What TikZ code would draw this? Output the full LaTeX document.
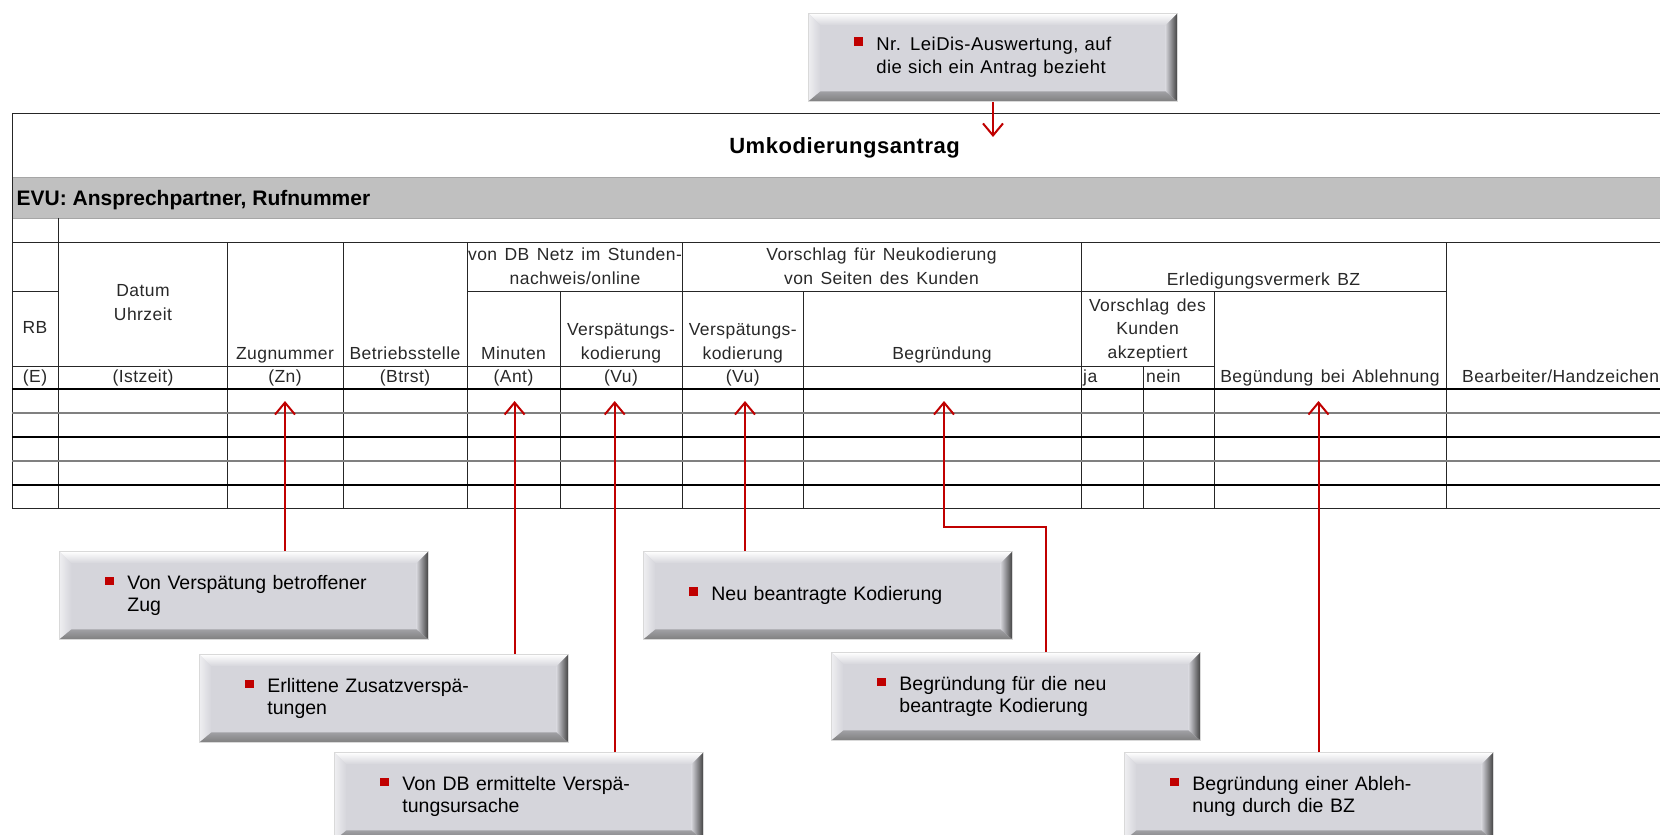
\documentclass[tikz,border=0pt]{standalone}
\usepackage{fontspec}
\setmainfont{Liberation Sans}
\newfontfamily\tabfont{Liberation Sans}[LetterSpace=2.5]
\newfontfamily\notefont{Liberation Sans}[WordSpace=2.2]
\newfontfamily\topfont{Liberation Sans}[LetterSpace=2.5, WordSpace=1.4]
\usetikzlibrary{arrows.meta}

\definecolor{dbred}{RGB}{192,0,0}
\definecolor{notefill}{RGB}{213,213,219}
\definecolor{bandgray}{RGB}{192,192,192}
\definecolor{inkgray}{RGB}{40,40,40}

\newcommand{\bul}{\textcolor{dbred}{\rule[4.5pt]{8.5pt}{8.5pt}}\hspace{13.5pt}}
\newcommand{\notetext}[1]{\bul\parbox[t]{250pt}{\raggedright #1}}

\tikzset{
  grid/.style={draw=black!85, line width=1pt},
  thickrow/.style={draw=black, line width=2pt},
  thinrow/.style={draw=black!50, line width=1.5pt},
  bandline/.style={draw=black!35, line width=1pt},
  cell/.style={font=\tabfont\fontsize{17.5}{23.5}\selectfont, text=inkgray, inner sep=0pt, anchor=base, align=center},
  pointer/.style={draw=dbred, line width=2pt, -{Straight Barb[length=12pt, width=20pt]}},
  note/.style={rectangle, fill=notefill, draw=black!15, line width=0.8pt,
    minimum height=88pt, text width=277pt, inner xsep=46pt, inner ysep=0pt,
    align=left, anchor=north west, text=black,
    font=\notefont\fontsize{19.5}{21.5}\selectfont,
    path picture={
      \coordinate (nw) at (path picture bounding box.north west);
      \coordinate (ne) at (path picture bounding box.north east);
      \coordinate (sw) at (path picture bounding box.south west);
      \coordinate (se) at (path picture bounding box.south east);
      \shade[top color=white, bottom color=notefill] (nw) -- (ne) -- ([shift={(-12pt,-12pt)}]ne) -- ([shift={(12pt,-12pt)}]nw) -- cycle;
      \shade[left color=white!60!notefill, right color=notefill] (nw) -- ([shift={(12pt,-12pt)}]nw) -- ([shift={(12pt,10pt)}]sw) -- (sw) -- cycle;
      \shade[left color=notefill, right color=black!75] (ne) -- (se) -- ([shift={(-12pt,10pt)}]se) -- ([shift={(-12pt,-12pt)}]ne) -- cycle;
      \shade[top color=notefill!75!black, bottom color=black!50] (sw) -- ([shift={(12pt,10pt)}]sw) -- ([shift={(-12pt,10pt)}]se) -- (se) -- cycle;
    }}
}

\begin{document}
\begin{tikzpicture}[x=1pt, y=-1pt]
  \useasboundingbox (0,0) rectangle (1660,835);
  \clip (0,0) rectangle (1660,835);

  \fill[bandgray] (12,177) rectangle (1680,218);
  \draw[bandline] (12,177) -- (1680,177) (12,218) -- (1680,218);
  \draw[grid] (12,113) -- (1680,113) (12,113) -- (12,508) (12,242) -- (1680,242);
  \draw[grid] (12,291) -- (58,291) (467,291) -- (1446,291) (12,366) -- (1214,366) (12,508) -- (1680,508);
  \foreach \x/\top in {58/218, 227.5/242, 343/242, 467/242, 560/291, 682/242, 803.5/291, 1081/242, 1143.6/366, 1214/291, 1446/242}
    \draw[grid] (\x,\top) -- (\x,508);
  \foreach \y in {389,437,485}
    \draw[thickrow] (12,\y) -- (1680,\y);
  \foreach \y in {413,461}
    \draw[thinrow] (12,\y) -- (1680,\y);

  \node[font=\tabfont\bfseries\fontsize{22}{26}\selectfont, anchor=base, inner sep=0pt] (titel) at (844.6,153) {Umkodierungsantrag};
  \node[font=\bfseries\fontsize{21}{24}\selectfont, anchor=base west, inner sep=0pt] (evu) at (16.5,205.5) {EVU: Ansprechpartner, Rufnummer};

  \node[cell] (rb) at (35,333) {RB};
  \node[cell] (datum) at (143,320) {Datum\\Uhrzeit};
  \node[cell] (zugnr) at (285,359) {Zugnummer};
  \node[cell] (btrst) at (405,359) {Betriebsstelle};
  \node[cell] (dbnetz) at (575,284) {von DB Netz im Stunden-\\nachweis/online};
  \node[cell] (minuten) at (513.5,359) {Minuten};
  \node[cell] (vkod) at (621,359) {Verspätungs-\\kodierung};
  \node[cell] (vorschlag) at (881.5,284) {Vorschlag für Neukodierung\\von Seiten des Kunden};
  \node[cell] (nkod) at (742.8,359) {Verspätungs-\\kodierung};
  \node[cell] (begr) at (942,359) {Begründung};
  \node[cell] (erled) at (1263.5,285) {Erledigungsvermerk BZ};
  \node[cell] (akzept) at (1147.5,358) {Vorschlag des\\Kunden\\akzeptiert};
  \node[cell] (ablehn) at (1330,382.5) {Begündung bei Ablehnung};
  \node[cell, anchor=base west] (bearb) at (1462,382.5) {Bearbeiter/Handzeichen};

  \node[cell] (e) at (35,382.5) {(E)};
  \node[cell] (istzeit) at (143,382.5) {(Istzeit)};
  \node[cell] (zn) at (285,382.5) {(Zn)};
  \node[cell] (btrstk) at (405,382.5) {(Btrst)};
  \node[cell] (ant) at (513.5,382.5) {(Ant)};
  \node[cell] (vu) at (621,382.5) {(Vu)};
  \node[cell] (vuneu) at (742.8,382.5) {(Vu)};
  \node[cell, anchor=base west] (ja) at (1083,382.5) {ja};
  \node[cell, anchor=base west] (nein) at (1146,382.5) {nein};

  \node[note, font=\topfont\fontsize{18.5}{23.5}\selectfont] (leidis) at (808,13) {\notetext{Nr. LeiDis-Auswertung, auf\\die sich ein Antrag bezieht}};
  \node[note] (zug) at (59,551) {\notetext{Von Verspätung betroffener\\Zug}};
  \node[note] (zusatz) at (199,654) {\notetext{Erlittene Zusatzverspä-\\tungen}};
  \node[note] (ursache) at (334,752) {\notetext{Von DB ermittelte Verspä-\\tungsursache}};
  \node[note] (neukod) at (643,551) {\notetext{Neu beantragte Kodierung}};
  \node[note] (begrneu) at (831,652) {\notetext{Begründung für die neu\\beantragte Kodierung}};
  \node[note] (ablehnung) at (1124,752) {\notetext{Begründung einer Ableh-\\nung durch die BZ}};

  \coordinate (pNr) at (993,137);
  \coordinate (pZn) at (285,401);
  \coordinate (pAnt) at (514.6,401);
  \coordinate (pVu) at (614.7,401);
  \coordinate (pNeu) at (745,401);
  \coordinate (pBeg) at (944,401);
  \coordinate (pKnick) at (1046,527);
  \coordinate (pAbl) at (1318.5,401);

  \draw[pointer] (pNr |- leidis.south) -- (pNr);
  \draw[pointer] (pZn |- zug.north) -- (pZn);
  \draw[pointer] (pAnt |- zusatz.north) -- (pAnt);
  \draw[pointer] (pVu |- ursache.north) -- (pVu);
  \draw[pointer] (pNeu |- neukod.north) -- (pNeu);
  \draw[pointer] (pKnick |- begrneu.north) -- (pKnick) -| (pBeg);
  \draw[pointer] (pAbl |- ablehnung.north) -- (pAbl);
\end{tikzpicture}
\end{document}
